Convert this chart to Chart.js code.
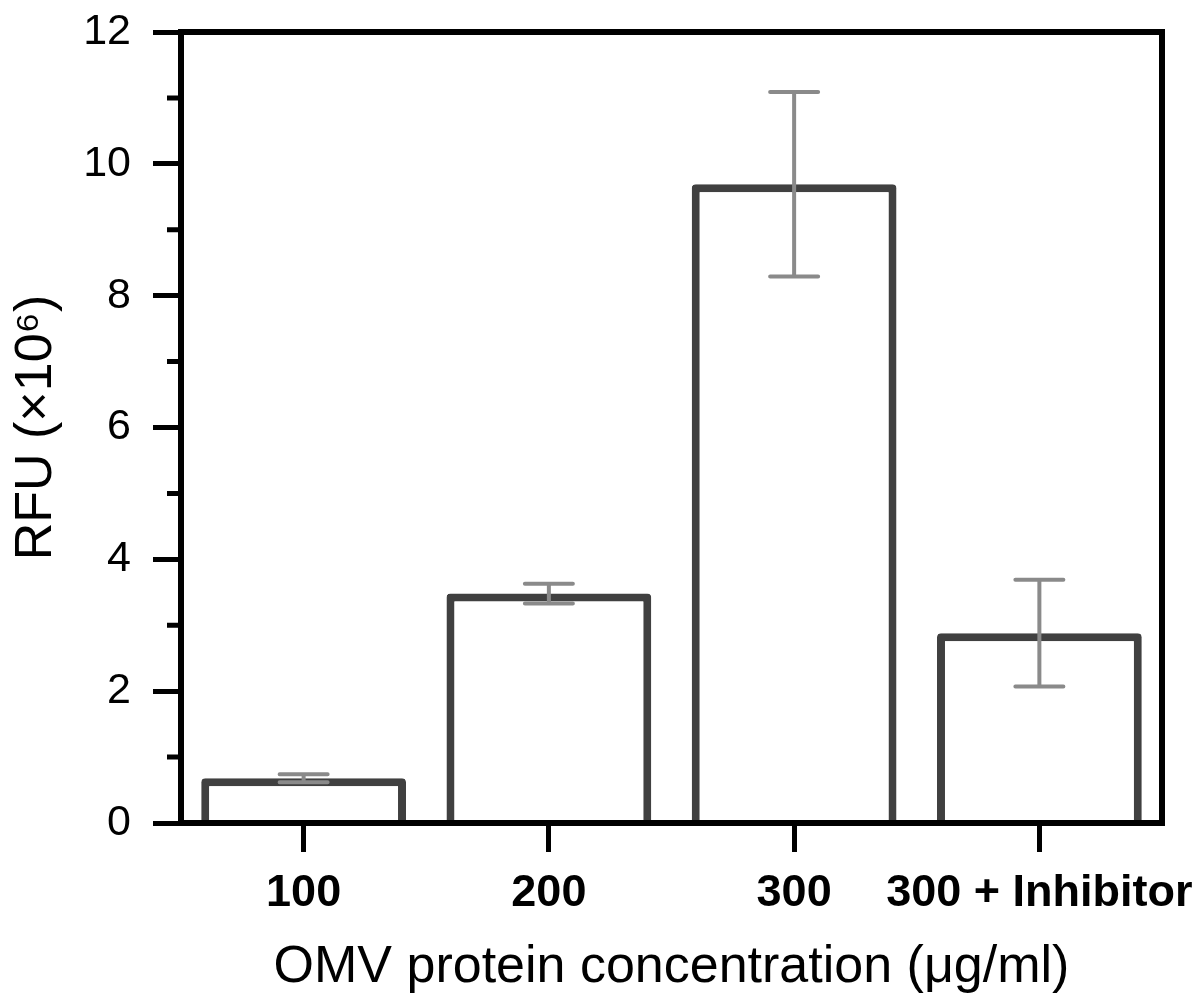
<!DOCTYPE html>
<html>
<head>
<meta charset="utf-8">
<script src="https://cdn.jsdelivr.net/npm/chart.js@4"></script>
<style>
  html, body { margin: 0; padding: 0; background: #fff; overflow: hidden; }
  #wrap { width: 1194px; height: 994px; position: relative; }
</style>
</head>
<body>
<div id="wrap"><canvas id="rfu-chart"></canvas></div>
<script>
// Data
const categories = ['100', '200', '300', '300 + Inhibitor'];
const rfuMeans = [0.68, 3.48, 9.69, 2.88];
const rfuErrors = [0.06, 0.15, 1.40, 0.81];
const yTicks = [0, 2, 4, 6, 8, 10, 12];
const yMinorTicks = [1, 3, 5, 7, 9, 11];

const FONT = "'Liberation Sans', Arial, Helvetica, sans-serif";

document.addEventListener('DOMContentLoaded', function() {
    // Error bars drawn over the bars
    const errorBars = {
        id: 'errorBars',
        afterDatasetsDraw(chart) {
            const ctx = chart.ctx;
            const y = chart.scales.y;
            const meta = chart.getDatasetMeta(0);
            ctx.save();
            ctx.strokeStyle = '#8a8a8a';
            ctx.lineWidth = 4;
            ctx.lineCap = 'round';
            meta.data.forEach(function(bar, i) {
                const top = y.getPixelForValue(rfuMeans[i] + rfuErrors[i]);
                const bot = y.getPixelForValue(rfuMeans[i] - rfuErrors[i]);
                ctx.beginPath();
                ctx.moveTo(bar.x, top);
                ctx.lineTo(bar.x, bot);
                ctx.moveTo(bar.x - 24, top);
                ctx.lineTo(bar.x + 24, top);
                ctx.moveTo(bar.x - 24, bot);
                ctx.lineTo(bar.x + 24, bot);
                ctx.stroke();
            });
            ctx.restore();
        }
    };

    // Minor ticks on y and the top/right frame
    const frame = {
        id: 'frame',
        afterDraw(chart) {
            const ctx = chart.ctx;
            const a = chart.chartArea;
            const y = chart.scales.y;
            ctx.save();
            ctx.strokeStyle = '#000';
            ctx.lineWidth = 5;
            ctx.beginPath();
            yMinorTicks.forEach(function(v) {
                const py = y.getPixelForValue(v);
                ctx.moveTo(a.left - 14, py);
                ctx.lineTo(a.left, py);
            });
            ctx.stroke();
            ctx.lineWidth = 6;
            ctx.lineCap = 'square';
            ctx.beginPath();
            ctx.moveTo(a.left, a.top);
            ctx.lineTo(a.right, a.top);
            ctx.lineTo(a.right, a.bottom);
            ctx.stroke();
            ctx.restore();
        }
    };

    const ctx = document.getElementById('rfu-chart').getContext('2d');
    new Chart(ctx, {
        type: 'bar',
        data: {
            labels: categories,
            datasets: [{
                label: 'RFU',
                data: rfuMeans,
                backgroundColor: '#ffffff',
                borderColor: '#404040',
                borderWidth: 8,
                borderRadius: { topLeft: 4, topRight: 4 },
                categoryPercentage: 1,
                barPercentage: 0.835
            }]
        },
        options: {
            responsive: true,
            maintainAspectRatio: false,
            animation: false,
            layout: { padding: { top: 32, right: 32, left: 0, bottom: 0 } },
            plugins: {
                legend: { display: false },
                tooltip: { enabled: false }
            },
            scales: {
                x: {
                    afterFit: function(scale) {
                        scale.height = 171;
                        scale.paddingLeft = 0;
                        scale.paddingRight = 0;
                    },
                    grid: {
                        drawOnChartArea: false,
                        offset: false,
                        tickLength: 29,
                        tickWidth: 5,
                        tickColor: '#000'
                    },
                    border: { display: true, color: '#000', width: 6, z: 1 },
                    ticks: {
                        color: '#000',
                        font: { family: FONT, size: 45, weight: 'bold' },
                        padding: 15,
                        maxRotation: 0,
                        minRotation: 0,
                        autoSkip: false
                    },
                    title: {
                        display: true,
                        text: 'OMV protein concentration (μg/ml)',
                        color: '#000',
                        font: { family: FONT, size: 52, lineHeight: 1 },
                        padding: { top: 0, bottom: 0 }
                    }
                },
                y: {
                    min: 0,
                    max: 12,
                    afterFit: function(scale) {
                        scale.width = 181;
                        scale.paddingTop = 0;
                        scale.paddingBottom = 0;
                    },
                    afterBuildTicks: function(scale) {
                        scale.ticks = yTicks.map(v => ({ value: v }));
                    },
                    grid: {
                        drawOnChartArea: false,
                        tickLength: 28,
                        tickWidth: 5,
                        tickColor: '#000'
                    },
                    border: { display: true, color: '#000', width: 6, z: 1 },
                    ticks: {
                        color: '#000',
                        font: { family: FONT, size: 43 },
                        padding: 22
                    },
                    title: {
                        display: true,
                        text: 'RFU (×10⁶)',
                        color: '#000',
                        font: { family: FONT, size: 52, lineHeight: 1 },
                        padding: { top: 11, bottom: 0 }
                    }
                }
            }
        },
        plugins: [errorBars, frame]
    });
});
</script>
</body>
</html>
